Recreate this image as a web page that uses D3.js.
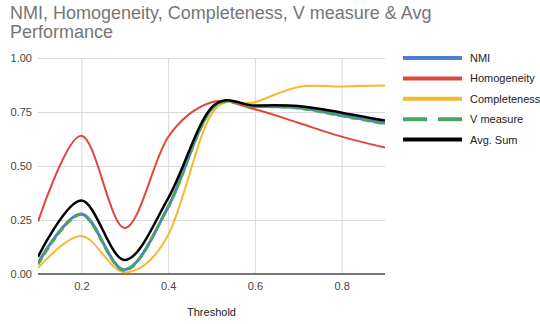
<!DOCTYPE html>
<html>
<head>
<meta charset="utf-8">
<script src="https://cdn.jsdelivr.net/npm/d3@7"></script>
<style>
  body { margin: 0; background: #fff; }
  svg { display: block; font-family: "Liberation Sans", Arial, sans-serif; }
  .grid line { stroke: #d9d9d9; stroke-width: 1; }
  .tick text { fill: #444; font-size: 11px; }
</style>
</head>
<body>
<div id="chart"></div>
<script>
var thresholds = [0.1, 0.2, 0.3, 0.4, 0.5, 0.6, 0.7, 0.8, 0.9];

var nmi          = [0.050, 0.278, 0.020, 0.310, 0.765, 0.775, 0.770, 0.735, 0.698];
var homogeneity  = [0.242, 0.640, 0.213, 0.634, 0.795, 0.763, 0.700, 0.636, 0.585];
var completeness = [0.028, 0.176, 0.008, 0.180, 0.740, 0.795, 0.866, 0.868, 0.873];
var vMeasure     = [0.045, 0.275, 0.018, 0.310, 0.762, 0.775, 0.768, 0.732, 0.695];
var avgSum       = [0.080, 0.340, 0.065, 0.350, 0.770, 0.780, 0.778, 0.747, 0.710];

var seriesNames = ["NMI", "Homogeneity", "Completeness", "V measure", "Avg. Sum"];
var xTicks = [0.2, 0.4, 0.6, 0.8];
var yTicks = [0, 0.25, 0.5, 0.75, 1];

var series = [
  { name: seriesNames[0], values: nmi,          color: "#4a7fd4", width: 3,   dash: null },
  { name: seriesNames[1], values: homogeneity,  color: "#e0463a", width: 2,   dash: null },
  { name: seriesNames[2], values: completeness, color: "#f4b92f", width: 2,   dash: null },
  { name: seriesNames[3], values: vMeasure,     color: "#4aa65a", width: 3,   dash: "8,4" },
  { name: seriesNames[4], values: avgSum,       color: "#000000", width: 2.5, dash: null }
];

var W = 540, H = 324;
var margin = { top: 58, left: 38 };
var plotW = 347, plotH = 216;

var svg = d3.select("#chart").append("svg")
  .attr("width", W)
  .attr("height", H);

// title, two lines
["NMI, Homogeneity, Completeness, V measure & Avg", "Performance"].forEach(function(t, i) {
  svg.append("text")
    .attr("x", 10)
    .attr("y", 19 + i * 19)
    .attr("fill", "#757575")
    .style("font-size", "18px")
    .text(t);
});

var x = d3.scaleLinear().domain([0.1, 0.9]).range([0, plotW]);
var y = d3.scaleLinear().domain([0, 1]).range([plotH, 0]);

var g = svg.append("g")
  .attr("transform", "translate(" + margin.left + "," + margin.top + ")");

// horizontal grid + y labels
g.append("g")
  .attr("class", "grid")
  .call(d3.axisLeft(y).tickValues(yTicks).tickSize(-plotW).tickFormat(d3.format(".2f")).tickPadding(6))
  .call(function(s) {
    s.select(".domain").remove();
    s.selectAll(".tick text").attr("x", -6);
  });

// vertical grid + x labels
g.append("g")
  .attr("class", "grid")
  .attr("transform", "translate(0," + plotH + ")")
  .call(d3.axisBottom(x).tickValues(xTicks).tickSize(-plotH).tickFormat(d3.format(".1f")).tickPadding(8))
  .call(function(s) {
    s.select(".domain").remove();
  });

// baseline
g.append("line")
  .attr("x1", 0).attr("x2", plotW)
  .attr("y1", y(0)).attr("y2", y(0))
  .attr("stroke", "#777")
  .attr("stroke-width", 2);

svg.append("defs").append("clipPath").attr("id", "plotClip")
  .append("rect").attr("x", 0).attr("y", -10).attr("width", plotW).attr("height", plotH + 10);

var line = d3.line()
  .x(function(d, i) { return x(thresholds[i]); })
  .y(function(d) { return y(d); })
  .curve(d3.curveCardinal.tension(0));

var lines = g.append("g").attr("clip-path", "url(#plotClip)");

series.forEach(function(s) {
  lines.append("path")
    .datum(s.values)
    .attr("fill", "none")
    .attr("stroke", s.color)
    .attr("stroke-width", s.width)
    .attr("stroke-dasharray", s.dash)
    .attr("stroke-linejoin", "round")
    .attr("d", line);
});

// x axis title
svg.append("text")
  .attr("x", margin.left + plotW / 2)
  .attr("y", 316)
  .attr("text-anchor", "middle")
  .attr("fill", "#222")
  .style("font-size", "11px")
  .text("Threshold");

// legend
var legend = svg.append("g").attr("transform", "translate(403,58)");
series.forEach(function(s, i) {
  var row = legend.append("g").attr("transform", "translate(0," + (i * 20.4) + ")");
  row.append("line")
    .attr("x1", 0).attr("x2", 59)
    .attr("stroke", s.color)
    .attr("stroke-width", 4)
    .attr("stroke-dasharray", s.dash ? "24,11" : null);
  row.append("text")
    .attr("x", 67)
    .attr("y", 4)
    .attr("fill", "#222")
    .style("font-size", "11px")
    .text(s.name);
});
</script>
</body>
</html>
